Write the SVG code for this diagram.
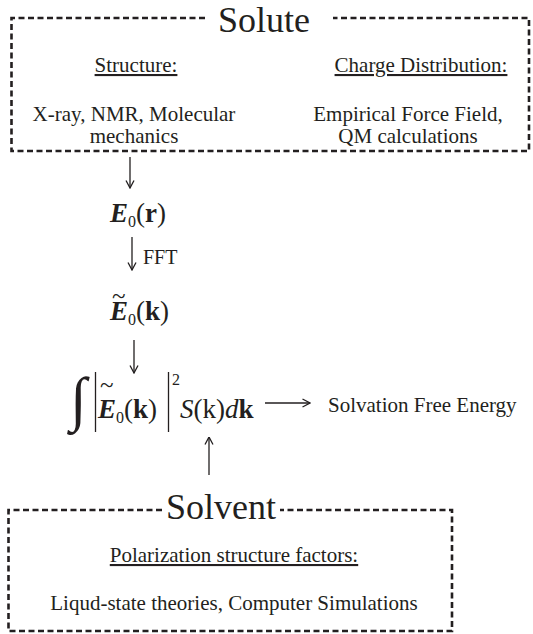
<svg xmlns="http://www.w3.org/2000/svg" width="533" height="634" viewBox="0 0 533 634">
<style>
text{font-family:"Liberation Serif","Times New Roman",serif;fill:#231f20}
.box{fill:none;stroke:#231f20;stroke-width:2.6;stroke-dasharray:6 3.5}
.title{font-size:36px}
.t{font-size:21px}
.u{text-decoration:underline}
.m{font-size:27px}
.bi{font-weight:bold;font-style:italic}
.b{font-weight:bold}
.i{font-style:italic}
.sub{font-size:16px}
.tl{font-size:25px}
.conn line{stroke:#231f20;stroke-width:1.3;fill:none}
</style>
<defs>
<marker id="ah" viewBox="0 0 10 10" refX="9.5" refY="5" markerWidth="10" markerHeight="10" markerUnits="userSpaceOnUse" orient="auto">
<path d="M2,1 L9.5,5 L2,9" fill="none" stroke="#231f20" stroke-width="1.3"/>
</marker>
</defs>
<g id="solute">
<path class="box" d="M205,18 H11.5 V151 H529 V18 H333"/>
<text class="title" x="264" y="32" text-anchor="middle">Solute</text>
<text class="t u" x="136" y="72" text-anchor="middle">Structure:</text>
<text class="t u" x="421" y="72" text-anchor="middle">Charge Distribution:</text>
<text class="t" x="134" y="121" text-anchor="middle">X-ray, NMR, Molecular</text>
<text class="t" x="134" y="143" text-anchor="middle">mechanics</text>
<text class="t" x="408" y="121" text-anchor="middle">Empirical Force Field,</text>
<text class="t" x="408" y="143" text-anchor="middle">QM calculations</text>
</g>
<g id="E0r">
<text class="m" x="110" y="222"><tspan class="bi">E</tspan><tspan class="sub" dy="5">0</tspan><tspan dy="-5">(</tspan><tspan class="b">r</tspan>)</text>
</g>
<g id="E0k">
<text class="tl" x="112" y="304">~</text>
<text class="m" x="110" y="320"><tspan class="bi">E</tspan><tspan class="sub" dy="5">0</tspan><tspan dy="-5">(</tspan><tspan class="b">k</tspan>)</text>
</g>
<g id="integral">
<text x="70" y="419" style="font-size:60px">∫</text>
<line x1="95.5" y1="372" x2="95.5" y2="432" stroke="#231f20" stroke-width="1.3"/>
<line x1="168.5" y1="372" x2="168.5" y2="432" stroke="#231f20" stroke-width="1.3"/>
<text class="tl" x="100" y="393">~</text>
<text class="m" x="98" y="418"><tspan class="bi">E</tspan><tspan class="sub" dy="5">0</tspan><tspan dy="-5">(</tspan><tspan class="b">k</tspan>)</text>
<text class="sub" x="172" y="385">2</text>
<text class="m" x="180" y="418"><tspan class="i">S</tspan>(k)<tspan class="i">d</tspan><tspan class="b">k</tspan></text>
</g>
<g id="result">
<text class="t" x="328" y="412">Solvation Free Energy</text>
</g>
<g id="solvent">
<path class="box" d="M162,510 H8.5 V631 H452 V510 H280"/>
<text class="title" x="221" y="519" text-anchor="middle">Solvent</text>
<text class="t u" x="234" y="562" text-anchor="middle">Polarization structure factors:</text>
<text class="t" x="234" y="610" text-anchor="middle">Liqud-state theories, Computer Simulations</text>
</g>
<g class="conn" id="connectors">
<line x1="130" y1="157" x2="130" y2="188" marker-end="url(#ah)"/>
<line x1="132" y1="237" x2="132" y2="270" marker-end="url(#ah)"/>
<text class="t" x="143" y="264" style="font-size:20px">FFT</text>
<line x1="134" y1="340" x2="134" y2="373" marker-end="url(#ah)"/>
<line x1="265" y1="403" x2="310" y2="403" marker-end="url(#ah)"/>
<line x1="209" y1="475" x2="209" y2="437" marker-end="url(#ah)"/>
</g>
</svg>
